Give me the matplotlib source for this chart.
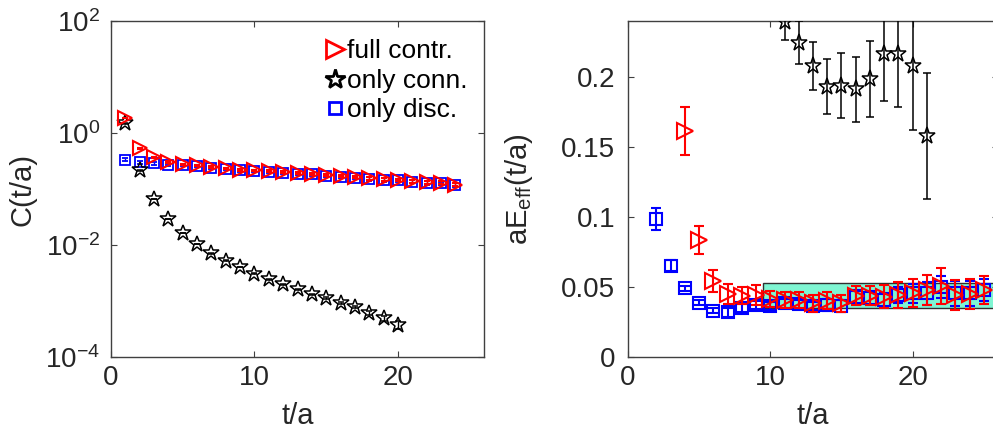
import numpy as np
import matplotlib
matplotlib.use('Agg')
import matplotlib.pyplot as plt
from matplotlib.patches import Rectangle
from matplotlib.ticker import FixedLocator, FuncFormatter, NullLocator

plt.rcParams['font.family'] = ['Liberation Sans', 'DejaVu Sans']
plt.rcParams['mathtext.fontset'] = 'custom'
plt.rcParams['mathtext.rm'] = 'Liberation Sans'
plt.rcParams['mathtext.it'] = 'Liberation Sans:italic'
plt.rcParams['mathtext.default'] = 'regular'

# ---------------- data: left panel, correlators C(t/a) ----------------
t_full = [1, 2, 3, 4, 5, 6, 7, 8, 9, 10, 11, 12, 13, 14, 15, 16, 17, 18, 19, 20, 21, 22, 23, 24]
C_full = [1.86, 0.537, 0.372, 0.302, 0.275, 0.263, 0.245, 0.234, 0.219, 0.214, 0.209, 0.200,
          0.191, 0.186, 0.178, 0.170, 0.162, 0.155, 0.148, 0.145, 0.138, 0.132, 0.129, 0.120]
C_full_err = [0.02, 0.01, 0.008, 0.008, 0.008, 0.008, 0.008, 0.008, 0.008, 0.008, 0.008, 0.008,
              0.008, 0.008, 0.008, 0.008, 0.008, 0.008, 0.008, 0.008, 0.008, 0.008, 0.008, 0.008]

t_disc = [1, 2, 3, 4, 5, 6, 7, 8, 9, 10, 11, 12, 13, 14, 15, 16, 17, 18, 19, 20, 21, 22, 23, 24]
C_disc = [0.331, 0.302, 0.288, 0.269, 0.269, 0.257, 0.240, 0.229, 0.214, 0.209, 0.204, 0.196,
          0.187, 0.182, 0.174, 0.166, 0.158, 0.151, 0.145, 0.142, 0.135, 0.129, 0.126, 0.117]
C_disc_err = [0.02, 0.02, 0.015, 0.012, 0.012, 0.012, 0.011, 0.011, 0.010, 0.010, 0.010, 0.010,
              0.010, 0.010, 0.010, 0.010, 0.010, 0.010, 0.009, 0.009, 0.009, 0.009, 0.009, 0.009]

t_conn = [1, 2, 3, 4, 5, 6, 7, 8, 9, 10, 11, 12, 13, 14, 15, 16, 17, 18, 19, 20]
C_conn = [1.48, 0.214, 0.0661, 0.0288, 0.0162, 0.0105, 0.00708, 0.00525, 0.00407, 0.00309,
          0.00245, 0.00200, 0.00162, 0.00132, 0.00112, 0.000912, 0.000776, 0.000603, 0.000490, 0.000380]
C_conn_err = [0.01, 0.002, 0.0005, 0.0002, 0.0001, 0.00008, 0.00006, 0.00005, 0.00005, 0.00004,
              0.00004, 0.00004, 0.00004, 0.00004, 0.00004, 0.00004, 0.00004, 0.00005, 0.00005, 0.00006]

# ---------------- data: right panel, effective masses ----------------
tE_full = [4, 5, 6, 7, 8, 9, 10, 11, 12, 13, 14, 15, 16, 17, 18, 19, 20, 21, 22, 23, 24, 25]
E_full = [0.1614, 0.0836, 0.0545, 0.0450, 0.0438, 0.0443, 0.0414, 0.0407, 0.0407, 0.0383, 0.0402,
          0.0383, 0.0438, 0.0438, 0.0431, 0.0443, 0.0455, 0.0479, 0.0507, 0.0443, 0.0450, 0.0479]
E_full_err = [0.017, 0.010, 0.008, 0.007, 0.006, 0.007, 0.006, 0.006, 0.006, 0.006, 0.006,
              0.006, 0.007, 0.007, 0.008, 0.009, 0.010, 0.011, 0.013, 0.011, 0.011, 0.010]

tE_disc = [2, 3, 4, 5, 6, 7, 8, 9, 10, 11, 12, 13, 14, 15, 16, 17, 18, 19, 20, 21, 22, 23, 24, 25]
E_disc = [0.0986, 0.0652, 0.0490, 0.0388, 0.0331, 0.0319, 0.0348, 0.0371, 0.0364, 0.0383, 0.0376,
          0.0364, 0.0371, 0.0364, 0.0431, 0.0419, 0.0407, 0.0443, 0.0455, 0.0455, 0.0502, 0.0455,
          0.0455, 0.0479]
E_disc_err = [0.008, 0.004, 0.002, 0.002, 0.002, 0.003, 0.003, 0.003, 0.003, 0.003, 0.003,
              0.003, 0.004, 0.004, 0.005, 0.005, 0.005, 0.006, 0.007, 0.008, 0.008, 0.009, 0.009, 0.008]

tE_conn = [11, 12, 13, 14, 15, 16, 17, 18, 19, 20, 21]
E_conn = [0.2395, 0.2245, 0.2079, 0.1931, 0.1938, 0.1912, 0.1986, 0.2162, 0.2164, 0.2079, 0.1579]
E_conn_err = [0.013, 0.0155, 0.017, 0.0195, 0.023, 0.023, 0.027, 0.033, 0.038, 0.046, 0.045]

# plateau fit band
band_t = [9.5, 27.0]
band_E = [0.0348, 0.0531]

labels = ['full contr.', 'only conn.', 'only disc.']
xticks = [0, 10, 20]
yticks_left = [1e-4, 1e-2, 1e0, 1e2]
yticks_right = [0, 0.05, 0.1, 0.15, 0.2]

# ---------------- figure ----------------
TXT = '#262626'
SP = '#404040'
fig = plt.figure(figsize=(9.93, 4.32), dpi=100)
axL = fig.add_axes([0.1118, 0.1736, 0.3756, 0.7778])
axR = fig.add_axes([0.6324, 0.1736, 0.3726, 0.7778])

RED, BLUE, BLK = '#ff0000', '#0000ff', '#000000'

def style(ax, ypad):
    for s in ax.spines.values():
        s.set_color(SP)
        s.set_linewidth(1.0)
    ax.tick_params(direction='in', length=4, width=0.8, top=True, right=True,
                   labelsize=20, colors=SP, labelcolor=TXT)
    ax.tick_params(axis='x', pad=6)
    ax.tick_params(axis='y', pad=ypad)

# left panel
hb = axL.errorbar(t_disc, C_disc, yerr=C_disc_err, fmt='s', ms=7.5, mfc='none', mec=BLUE,
                  mew=1.3, color=BLUE, ecolor=BLUE, elinewidth=1.0, capsize=2.5, zorder=3)
hk = axL.errorbar(t_conn, C_conn, yerr=C_conn_err, fmt='*', ms=12, mfc='none', mec=BLK,
                  mew=1.1, color=BLK, ecolor=BLK, elinewidth=1.0, capsize=2.5, zorder=4)
hr = axL.errorbar(t_full, C_full, yerr=C_full_err, fmt='>', ms=10.5, mfc='none', mec=RED,
                  mew=1.5, color=RED, ecolor=RED, elinewidth=1.0, capsize=2.5, zorder=5)
axL.set_yscale('log')
axL.set_xlim(0, 26)
axL.set_ylim(1e-4, 1e2)
axL.xaxis.set_major_locator(FixedLocator(xticks))
axL.yaxis.set_major_locator(FixedLocator(yticks_left))
axL.yaxis.set_minor_locator(NullLocator())
axL.yaxis.set_major_formatter(FuncFormatter(lambda v, p: r'$10^{%d}$' % int(round(np.log10(v)))))
style(axL, 8)
axL.set_xlabel('t/a', fontsize=21, color=TXT)
axL.set_ylabel('C(t/a)', fontsize=21, color=TXT)
axL.xaxis.set_label_coords(0.5, -0.135, transform=axL.transAxes)
axL.xaxis.label.set_va('top')
axL.yaxis.set_label_coords(-0.2, 0.5)

leg = axL.legend([hr[0], hk[0], hb[0]], labels, loc='upper right',
                 bbox_to_anchor=(1.005, 1.0), frameon=False, fontsize=19,
                 handlelength=0.7, handletextpad=0.1, labelspacing=0.2,
                 borderaxespad=0.3, markerscale=1.2)
for txt in leg.get_texts():
    txt.set_color('#000000')
for h in leg.legend_handles:
    h.set_markeredgewidth(2.0)

# right panel
axR.add_patch(Rectangle((band_t[0], band_E[0]), band_t[1] - band_t[0], band_E[1] - band_E[0],
                        facecolor='#7ff5d2', edgecolor='#303030', linewidth=1.0, zorder=1))
axR.errorbar(tE_conn, E_conn, yerr=E_conn_err, fmt='*', ms=12.5, mfc='none', mec=BLK,
             mew=1.1, color=BLK, ecolor=BLK, elinewidth=1.1, capsize=3, zorder=4)
axR.errorbar(tE_disc, E_disc, yerr=E_disc_err, fmt='s', ms=8.5, mfc='none', mec=BLUE,
             mew=1.5, color=BLUE, ecolor=BLUE, elinewidth=1.5, capsize=3.5, zorder=3)
axR.errorbar(tE_full, E_full, yerr=E_full_err, fmt='>', ms=11, mfc='none', mec=RED,
             mew=1.5, color=RED, ecolor=RED, elinewidth=1.5, capsize=3.5, zorder=5)
axR.set_xlim(0, 26)
axR.set_ylim(0, 0.24)
axR.xaxis.set_major_locator(FixedLocator(xticks))
axR.yaxis.set_major_locator(FixedLocator(yticks_right))
axR.yaxis.set_major_formatter(FuncFormatter(lambda v, p: '%g' % v))
style(axR, 9)
axR.set_xlabel('t/a', fontsize=21, color=TXT)
axR.set_ylabel(r'aE$_{\mathrm{eff}}$(t/a)', fontsize=21, color=TXT)
axR.xaxis.set_label_coords(0.5, -0.135, transform=axR.transAxes)
axR.xaxis.label.set_va('top')
axR.yaxis.set_label_coords(-0.25, 0.5)

fig.savefig('out.png', dpi=100)
